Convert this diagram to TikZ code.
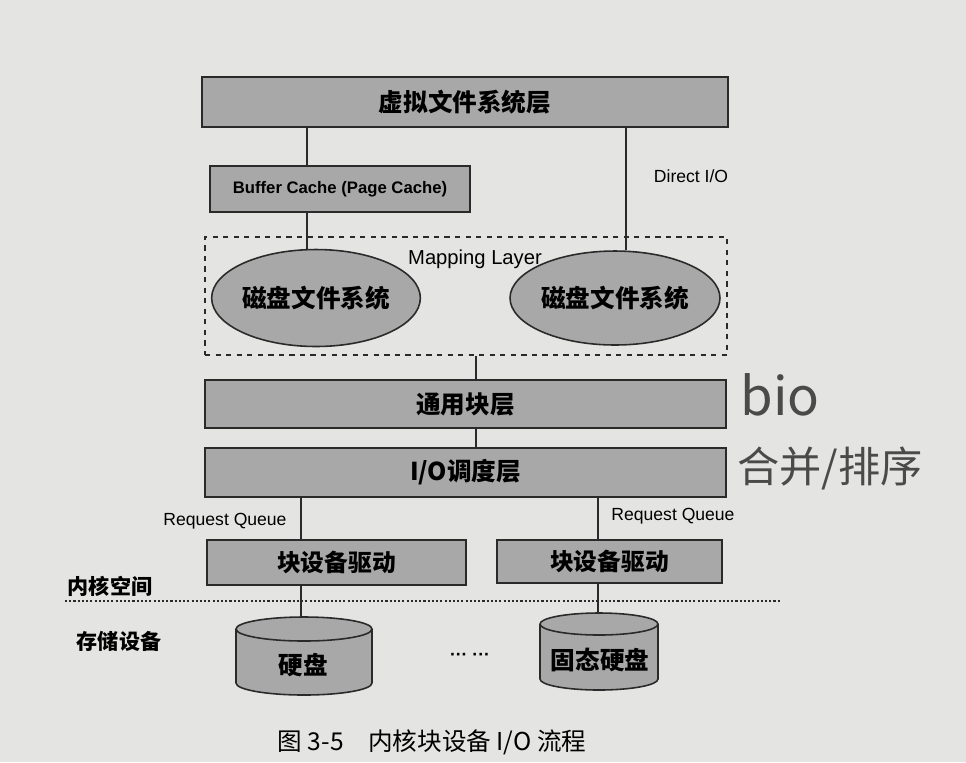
\documentclass[tikz,border=0pt]{standalone}
\usepackage{fontspec}
\setmainfont{Liberation Sans}
\newfontfamily\cjk{Noto Sans CJK SC}
\usetikzlibrary{shapes.geometric}
\definecolor{paper}{HTML}{E4E4E2}
\definecolor{boxgray}{HTML}{A8A8A8}
\definecolor{inkc}{HTML}{2A2A2A}
\tikzset{
  layerbox/.style={draw=inkc, line width=0.9pt, fill=boxgray, inner sep=0pt, font=\cjk\bfseries\fontsize{14}{16}\selectfont},
  fsell/.style={ellipse, draw=inkc, line width=0.9pt, fill=boxgray, inner sep=0pt, font=\cjk\bfseries\fontsize{14}{16}\selectfont},
  link/.style={draw=inkc, line width=0.8pt},
  lbl/.style={inner sep=0pt, font=\fontsize{10}{12}\selectfont},
  sidelbl/.style={inner sep=0pt, font=\cjk\bfseries\fontsize{12}{14}\selectfont},
  cylfill/.style={fill=boxgray, draw=inkc, line width=0.9pt},
  handw/.style={inner sep=0pt, text=inkc!85, font=\cjk\fontsize{24}{26}\selectfont}
}
\begin{document}
\begin{tikzpicture}[x=0.02cm,y=-0.02cm]
\fill[paper] (0,0) rectangle (966,762);
\useasboundingbox (0,0) rectangle (966,762);

% layers
\node[layerbox, minimum width=10.52cm, minimum height=1.0cm] (vfs) at (465,102) {虚拟文件系统层};
\node[layerbox, minimum width=5.2cm, minimum height=0.92cm, font=\bfseries\fontsize{9.5}{11}\selectfont] (buf) at (340,189) {Buffer Cache (Page Cache)};
\node[draw=inkc, dashed, line width=0.9pt, minimum width=10.44cm, minimum height=2.36cm, inner sep=0pt] (map) at (466,296) {};
\node[lbl, font=\fontsize{11.5}{13}\selectfont] (maplbl) at (475,259) {Mapping Layer};
\node[fsell, minimum width=4.16cm, minimum height=1.94cm] (fsL) at (316,298) {磁盘文件系统};
\node[fsell, minimum width=4.2cm, minimum height=1.88cm] (fsR) at (615,298) {磁盘文件系统};
\node[lbl] (dio) at (691,176) {Direct I/O};

\node[layerbox, minimum width=10.42cm, minimum height=0.96cm] (blk) at (465.5,404) {通用块层};
\node[layerbox, minimum width=10.42cm, minimum height=0.98cm] (ios) at (465.5,472.5) {I/O调度层};

\node[layerbox, minimum width=5.18cm, minimum height=0.9cm, font=\cjk\bfseries\fontsize{13.5}{15}\selectfont] (drvL) at (336.5,562.5) {块设备驱动};
\node[layerbox, minimum width=4.5cm, minimum height=0.86cm, font=\cjk\bfseries\fontsize{13.5}{15}\selectfont] (drvR) at (609.5,561.5) {块设备驱动};
\node[lbl] (rqL) at (225,521) {Request Queue};
\node[lbl] (rqR) at (673,516) {Request Queue};

% x positions of connectors
\coordinate (xL) at (307,0);
\coordinate (xR) at (626,0);
\coordinate (xM) at (476,0);
\coordinate (xQL) at (301,0);
\coordinate (xQR) at (598,0);

\draw[link] (vfs.south -| xL) -- (buf.north -| xL);
\draw[link] (buf.south -| xL) -- (fsL.100 -| xL);
\draw[link] (vfs.south -| xR) -- (fsR.77 -| xR);
\draw[link] (map.south -| xM) -- (blk.north -| xM);
\draw[link] (blk.south -| xM) -- (ios.north -| xM);
\draw[link] (ios.south -| xQL) -- (drvL.north -| xQL);
\draw[link] (ios.south -| xQR) -- (drvR.north -| xQR);

% kernel / storage divider
\coordinate (divA) at (65,601);
\coordinate (divB) at (780,601);
\draw[inkc, line width=1.6pt, dash pattern=on 1.2pt off 1.2pt] (divA) -- (divB);
\node[sidelbl] (kspace) at (110,586) {内核空间};
\node[sidelbl] (sdev) at (119,641) {存储设备};

% cylinders
\coordinate (cylLt) at (301,617);
\coordinate (cylRt) at (598,613);
\filldraw[cylfill] (304,683) ellipse [x radius=68, y radius=12];
\fill[boxgray] (236,629) rectangle (372,683);
\draw[inkc, line width=0.9pt] (236,629) -- (236,683) (372,629) -- (372,683);
\filldraw[cylfill] (304,629) ellipse [x radius=68, y radius=12];
\node[inner sep=0pt, font=\cjk\bfseries\fontsize{14}{16}\selectfont] (hdd) at (303,665) {硬盘};

\filldraw[cylfill] (599,679) ellipse [x radius=59, y radius=11];
\fill[boxgray] (540,624) rectangle (658,679);
\draw[inkc, line width=0.9pt] (540,624) -- (540,679) (658,624) -- (658,679);
\filldraw[cylfill] (599,624) ellipse [x radius=59, y radius=11];
\node[inner sep=0pt, font=\cjk\bfseries\fontsize{14}{16}\selectfont] (ssd) at (600,660) {固态硬盘};

\node[inner sep=0pt, font=\bfseries\fontsize{10}{12}\selectfont] (dots) at (470,657) {\textperiodcentered\textperiodcentered\textperiodcentered\ \textperiodcentered\textperiodcentered\textperiodcentered};

\draw[link] (drvL.south -| xQL) -- (cylLt);
\draw[link] (drvR.south -| xQR) -- (cylRt);

% caption
\node[inner sep=0pt, font=\cjk\fontsize{14}{16}\selectfont] (cap) at (432,742) {图 3-5\quad 内核块设备 I/O 流程};

% handwritten notes
\node[handw, font=\cjk\fontsize{30}{32}\selectfont] (hw1) at (780,395) {bio};
\node[handw] (hw2) at (830,468) {合并/排序};
\end{tikzpicture}
\end{document}
